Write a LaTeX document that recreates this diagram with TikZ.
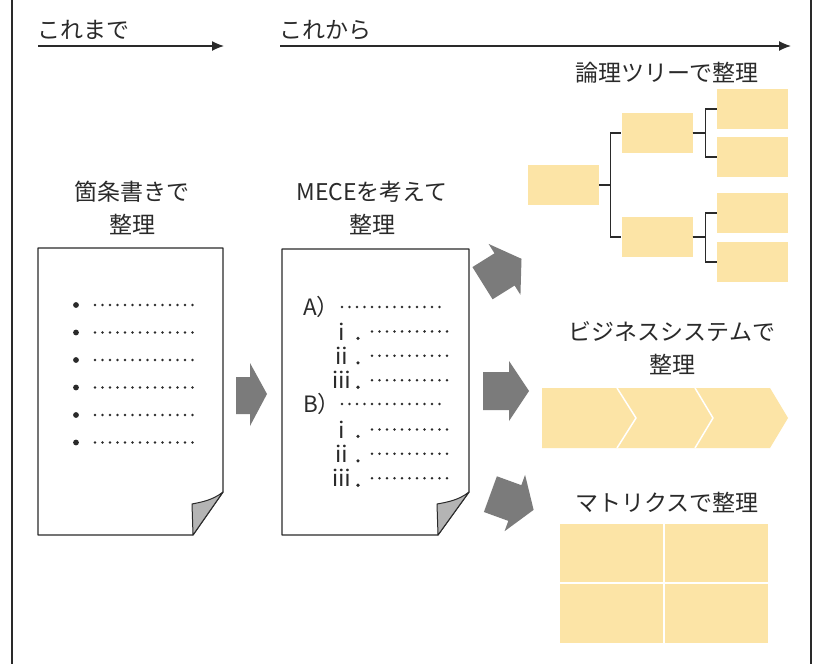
\documentclass[tikz,border=0pt]{standalone}
\usepackage{fontspec}
\setmainfont{Noto Sans CJK JP}
\usetikzlibrary{arrows.meta}
\definecolor{txt}{HTML}{2A2A2A}
\definecolor{pale}{HTML}{FCE4A6}
\definecolor{arr}{HTML}{7B7B7B}
\definecolor{fold}{HTML}{B4B4B4}
\tikzset{
  lbl/.style={text=txt, align=center, font=\fontsize{23}{33}\selectfont, inner sep=0},
  itm/.style={text=txt, anchor=west, font=\fontsize{22.5}{24}\selectfont, inner sep=0},
  doc/.style={draw=txt, line width=1.2pt, fill=white, line join=round},
  fld/.style={draw=txt, line width=1pt, fill=fold, line join=round},
  dots/.style={txt, line width=2.8pt, line cap=round, dash pattern=on 0pt off 7.5pt},
  tbox/.style={fill=pale, minimum width=71pt, minimum height=40pt, inner sep=0},
  conn/.style={draw=txt, line width=1.4pt},
  timeline/.style={draw=txt, line width=1.3pt, -{Latex[length=12pt,width=10pt]}},
  blockarr/.style={fill=arr},
}
\newcommand{\bigarrowshape}{(-23,-19) -- (3,-19) -- (3,-30) -- (23,0) -- (3,30) -- (3,19) -- (-23,19) -- cycle}
\begin{document}
\begin{tikzpicture}[x=1pt,y=-1pt]
\useasboundingbox (0,0) rectangle (824,664);
\fill[white] (0,0) rectangle (824,664);
% outer frame
\draw[txt, line width=2pt] (12,0) -- (12,664);
\draw[txt, line width=2pt] (811,0) -- (811,664);

% timeline
\node[lbl, anchor=west] (past) at (37,30) {これまで};
\node[lbl, anchor=west] (future) at (279,30) {これから};
\coordinate (p1) at (38,46); \coordinate (p2) at (224,46);
\coordinate (f1) at (280,46); \coordinate (f2) at (791,46);
\draw[timeline] (p1) -- (p2);
\draw[timeline] (f1) -- (f2);

% left document
\node[lbl] (t1) at (132,208) {箇条書きで\\整理};
\draw[doc] (38,248) -- (223,248) -- (223,492) -- (193,535) -- (38,535) -- cycle;
\draw[fld] (223,492) .. controls (213,500) and (202,502) .. (192,504) -- (193,535) -- cycle;
\foreach \y in {305,332.5,360,387.5,415,442.5}{
  \fill[txt] (76,\y) circle (2.9);
  \draw[dots] (95,\y) -- (195,\y);
}

% arrow between documents
\fill[blockarr] (236,377) -- (250,377) -- (250,363) -- (267,394) -- (250,426) -- (250,414) -- (236,414) -- cycle;

% middle document
\node[lbl] (t2) at (372,208) {MECEを考えて\\整理};
\draw[doc] (282,249) -- (469,249) -- (469,492) -- (438,535) -- (282,535) -- cycle;
\draw[fld] (469,492) .. controls (459,500) and (448,502) .. (437,504) -- (438,535) -- cycle;
\node[itm] (A) at (303,307) {A）};
\draw[dots] (342,307) -- (440,307);
\node[itm] (B) at (303,404) {B）};
\draw[dots] (342,404) -- (440,404);
\foreach \y/\n in {331.4/ⅰ,355.8/ⅱ,380.2/ⅲ,429.4/ⅰ,453.8/ⅱ,478.2/ⅲ}{
  \node[itm, anchor=east] at (353,\y) {\n};
  \fill[txt] (358,\y+7) circle (1.8);
  \draw[dots] (372,\y) -- (452,\y);
}

% three arrows to the right
\begin{scope}[shift={(502,271)}, rotate=32]
  \fill[blockarr] \bigarrowshape;
\end{scope}
\begin{scope}[shift={(506,391)}]
  \fill[blockarr] \bigarrowshape;
\end{scope}
\begin{scope}[shift={(512,502)}, rotate=-20]
  \fill[blockarr] \bigarrowshape;
\end{scope}

% logic tree
\node[lbl] (t3) at (667,73) {論理ツリーで整理};
\node[tbox] (root) at (563.5,185) {};
\node[tbox] (L2a) at (657,133) {};
\node[tbox] (L2b) at (657,237) {};
\node[tbox] (L3a) at (752.5,109) {};
\node[tbox] (L3b) at (752.5,157) {};
\node[tbox] (L3c) at (752.5,213) {};
\node[tbox] (L3d) at (752.5,262) {};
\draw[conn] (root.east) -- ++(11,0) |- (L2a.west);
\draw[conn] (root.east) -- ++(11,0) |- (L2b.west);
\draw[conn] (L2a.east) -- ++(13,0) |- (L3a.west);
\draw[conn] (L2a.east) -- ++(13,0) |- (L3b.west);
\draw[conn] (L2b.east) -- ++(13,0) |- (L3c.west);
\draw[conn] (L2b.east) -- ++(13,0) |- (L3d.west);

% business system
\node[lbl] (t4) at (672,348) {ビジネスシステムで\\整理};
\fill[pale] (542,388) -- (770,388) -- (788,418) -- (770,448) -- (542,448) -- cycle;
\draw[white, line width=1.5pt] (617,388) -- (636,418) -- (617,448);
\draw[white, line width=1.5pt] (695,388) -- (713,418) -- (695,448);

% matrix
\node[lbl] (t5) at (667,502) {マトリクスで整理};
\fill[pale] (560,524) rectangle (768,643);
\draw[white, line width=2pt] (664,524) -- (664,643);
\draw[white, line width=2pt] (560,583) -- (768,583);
\end{tikzpicture}
\end{document}
